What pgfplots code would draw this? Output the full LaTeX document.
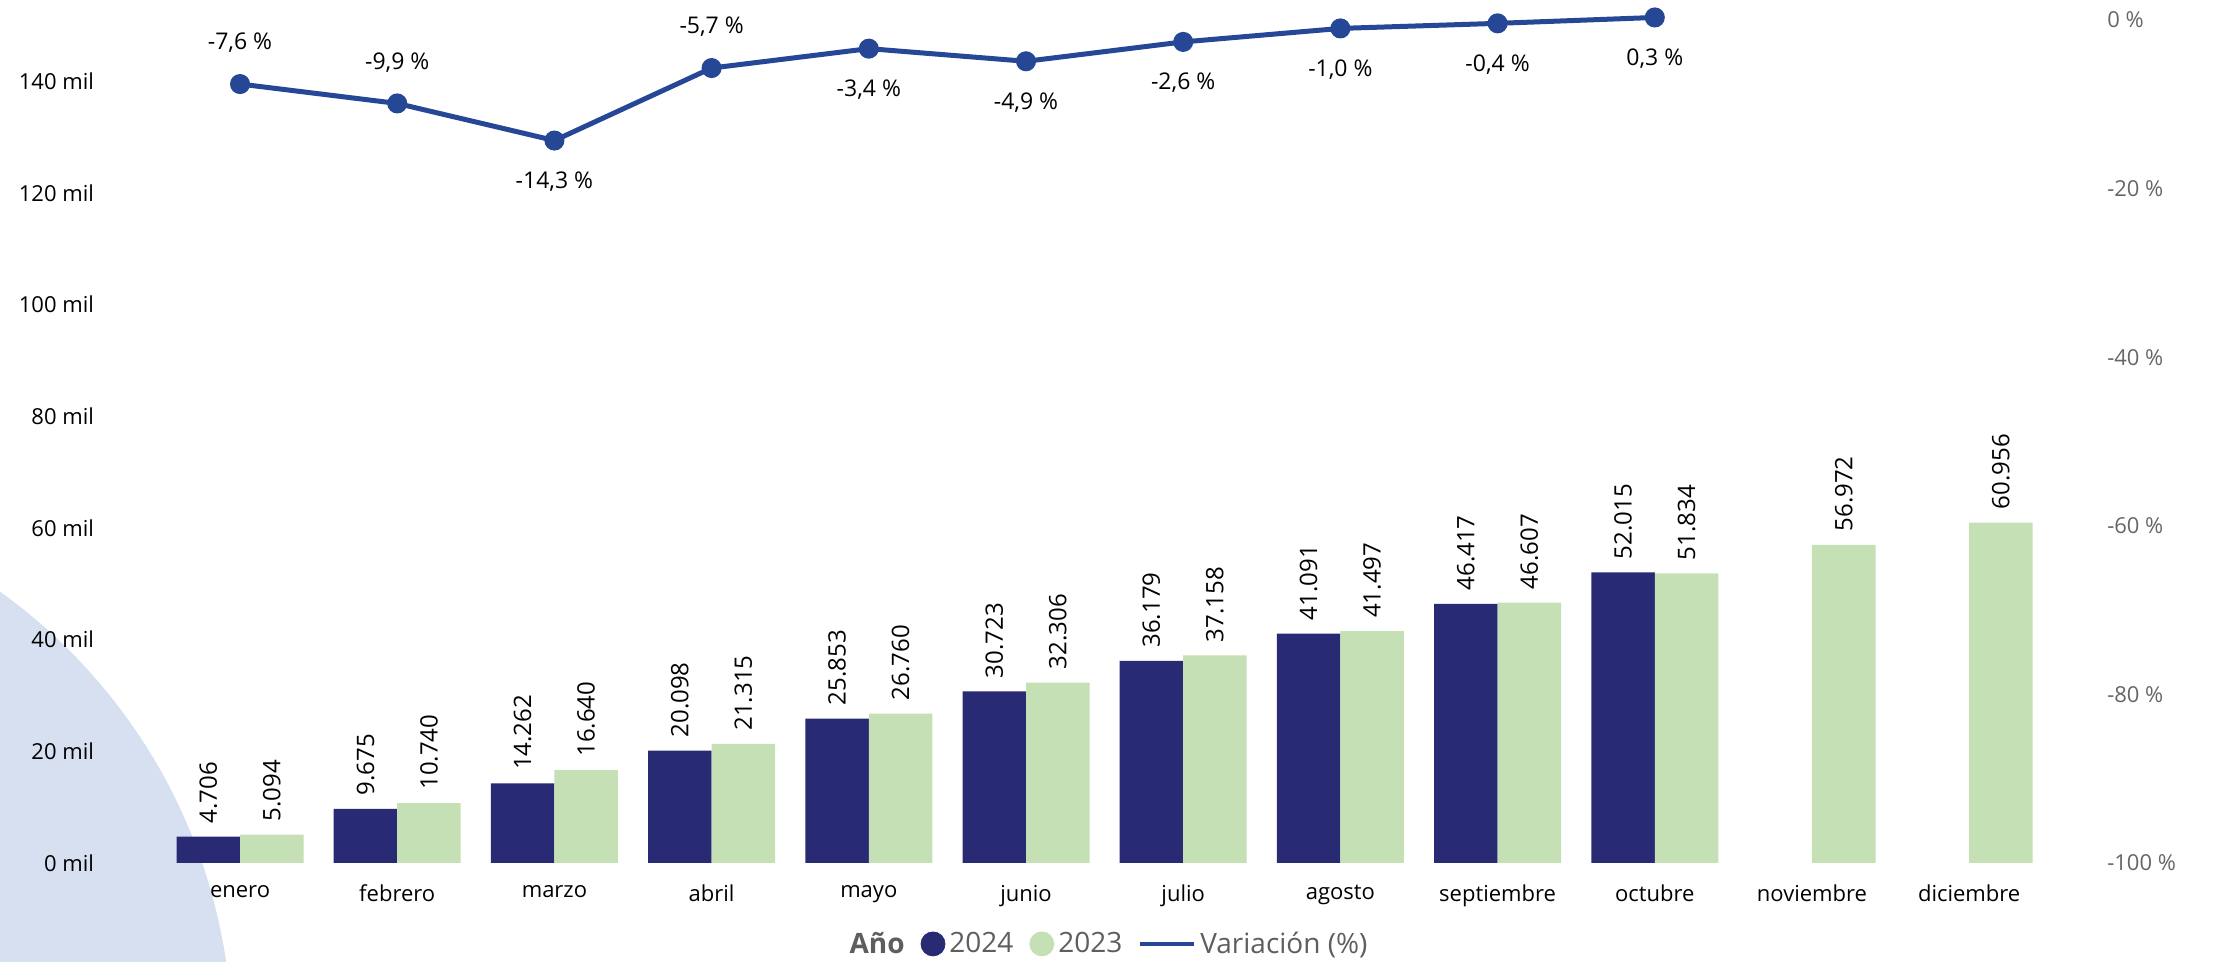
\documentclass[border=0pt]{standalone}
\usepackage{pgfplots}
\usepackage{pgfplotstable}
\pgfplotsset{compat=1.18}
\usepackage{fontspec}
\setmainfont{Open Sans}

\definecolor{c2024}{HTML}{282A74}
\definecolor{c2023}{HTML}{C5E0B4}
\definecolor{cline}{HTML}{264796}
\definecolor{cgray}{HTML}{605E5C}
\definecolor{caxis}{HTML}{666666}
\definecolor{cbg}{HTML}{D7E0F0}

% 2024 monthly cumulative
\pgfplotstableread{
x v
0 4706
1 9675
2 14262
3 20098
4 25853
5 30723
6 36179
7 41091
8 46417
9 52015
}\tabA
% 2023
\pgfplotstableread{
x v
0 5094
1 10740
2 16640
3 21315
4 26760
5 32306
6 37158
7 41497
8 46607
9 51834
10 56972
11 60956
}\tabB
% variation (%), dy = label offset in pt
\pgfplotstableread{
x v dy
0 -7.6 20.5
1 -9.9 20.5
2 -14.3 -20.5
3 -5.7 20.5
4 -3.4 -20.5
5 -4.9 -20.5
6 -2.6 -20.5
7 -1.0 -20.5
8 -0.4 -20.5
9 0.3 -20.5
}\tabC

\pgfplotsset{
  base/.style={
    at={(0,0)}, anchor=south west,
    scale only axis, width=974.6pt, height=421.5pt,
    xmin=-0.7, xmax=11.7,
    axis line style={draw=none},
    major tick length=0pt,
    clip=false,
    /pgf/number format/assume math mode=true,
  }
}

\begin{document}
\begin{tikzpicture}
\path[use as bounding box] (-65pt,-49.5pt) rectangle (1047.5pt,431.5pt);
\fill[cbg] (-226.5pt,-90pt) circle (277.5pt);

\begin{axis}[base,
  ymin=0, ymax=150940,
  ybar=0pt, bar width=31.75pt,
  xtick={0,...,11},
  xticklabels={enero,febrero,marzo,abril,mayo,junio,julio,agosto,septiembre,octubre,noviembre,diciembre},
  ytick={0,20000,40000,60000,80000,100000,120000,140000},
  yticklabels={0 mil,20 mil,40 mil,60 mil,80 mil,100 mil,120 mil,140 mil},
  scaled y ticks=false,
  tick label style={font=\fontsize{11}{13}\selectfont, text=black},
  y tick label style={xshift=-14.5pt},
  x tick label style={yshift=-7.5pt},
  nodes near coords={\pgfmathprintnumber[fixed,precision=0,1000 sep={.}]{\pgfplotspointmeta}},
  every node near coord/.append style={rotate=90, anchor=west, inner xsep=6.5pt, inner ysep=0pt,
    font=\fontsize{12}{14}\selectfont, text=black},
]
\addplot[fill=c2024, draw=none] table[x=x,y=v]{\tabA};
\addplot[fill=c2023, draw=none] table[x=x,y=v]{\tabB};
\end{axis}

\begin{axis}[base,
  ymin=-100, ymax=0,
  xtick=\empty,
  ytick={-100,-80,-60,-40,-20,0},
  yticklabels={-100 \%,-80 \%,-60 \%,-40 \%,-20 \%,0 \%},
  yticklabel pos=right,
  y tick label style={font=\fontsize{11}{13}\selectfont, text=caxis, xshift=10.5pt},
  legend columns=-1,
  legend style={at={(0.502,-0.096)}, anchor=center, draw=none, fill=none,
    font=\fontsize{14}{16}\selectfont, text=cgray, inner sep=0pt,
    /tikz/every even column/.append style={column sep=6pt}},
]
\addlegendimage{empty legend}
\addlegendentry{\textbf{Año}}
\addlegendimage{legend image code/.code={\fill[c2024] (6pt,0pt) circle (6pt);}}
\addlegendentry{2024}
\addlegendimage{legend image code/.code={\fill[c2023] (6pt,0pt) circle (6pt);}}
\addlegendentry{2023}
\addplot[cline, line width=2.5pt, mark=*, mark size=3.75pt,
  mark options={draw=none, fill=cline},
  legend image code/.code={\draw[cline, line width=2pt] (0pt,0pt) -- (27pt,0pt);},
  nodes near coords={\pgfmathprintnumber[fixed,fixed zerofill,precision=1,use comma]{\pgfplotspointmeta}~\%},
  visualization depends on={\thisrow{dy} \as \dy},
  every node near coord/.append style={anchor=center, yshift=\dy,
    font=\fontsize{11.5}{13}\selectfont, text=black},
] table[x=x,y=v]{\tabC};
\addlegendentry{Variación (\%)}
\end{axis}
\end{tikzpicture}
\end{document}
